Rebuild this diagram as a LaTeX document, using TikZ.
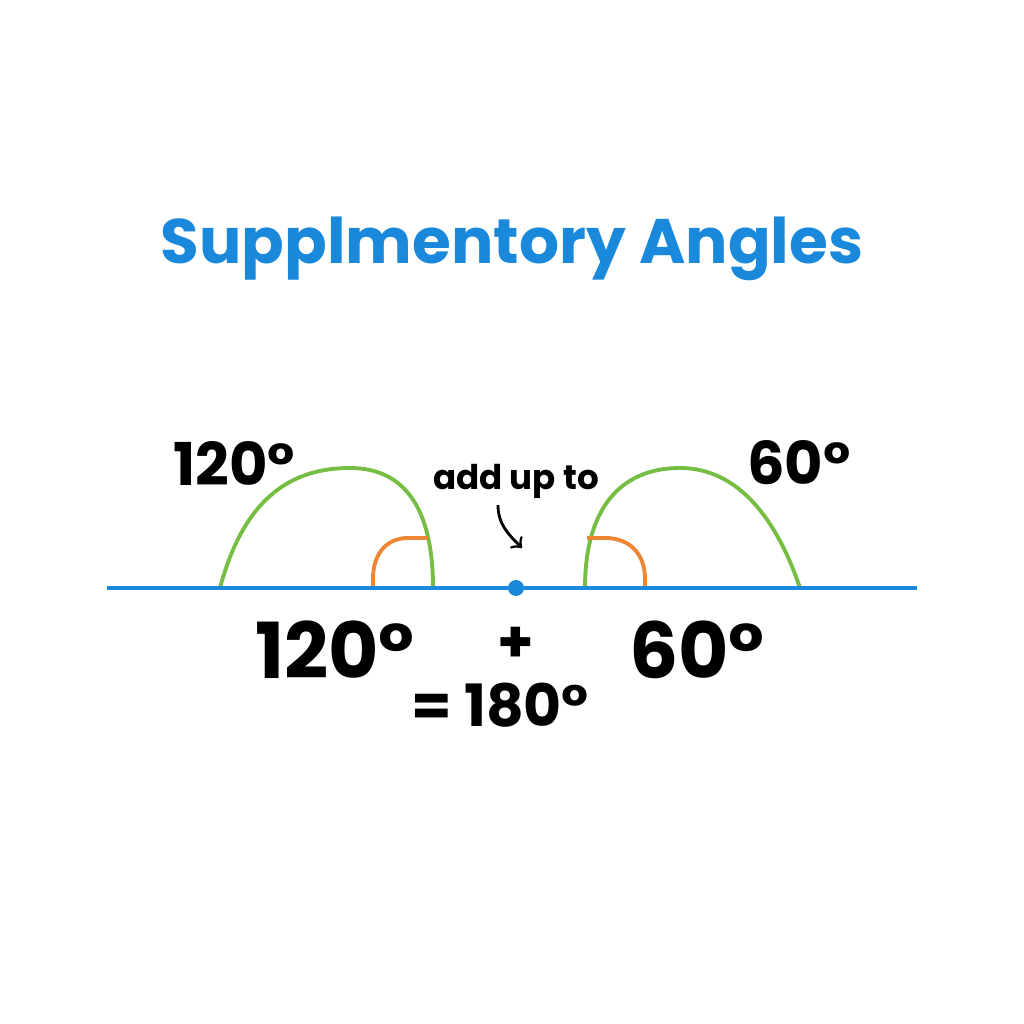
\documentclass[tikz,border=0pt]{standalone}
\usepackage{fontspec}
\setmainfont{Poppins}
\definecolor{lineblue}{RGB}{26,137,220}
\definecolor{arcgreen}{RGB}{118,190,67}
\definecolor{arcorange}{RGB}{238,135,52}
\begin{document}
\begin{tikzpicture}[font=\bfseries,
  label/.style={inner sep=0pt, anchor=center},
  bigarc/.style={arcgreen, line width=1.1pt},
  smallarc/.style={arcorange, line width=1.1pt}]

\useasboundingbox (0,0) rectangle (10.24,10.24);
\def\Y{4.36}

% Titre
  \node[label, lineblue, font=\fontsize{17.9}{20}\bfseries\selectfont] (titre) at (5.12,7.75) {Supplmentory Angles};

% Arcs
  \draw[bigarc] (2.20,\Y) .. controls (2.45,5.30) and (2.95,5.56) .. (3.50,5.56) .. controls (4.05,5.56) and (4.33,5.15) .. (4.33,\Y);
  \draw[smallarc] (3.73,\Y) -- (3.73,4.45) .. controls (3.73,4.72) and (3.88,4.86) .. (4.08,4.86) -- (4.28,4.86);
  \draw[bigarc] (5.85,\Y) .. controls (5.85,5.15) and (6.20,5.56) .. (6.80,5.56) .. controls (7.35,5.56) and (7.75,5.10) .. (8.00,\Y);
  \draw[smallarc] (5.87,4.86) -- (6.05,4.86) .. controls (6.30,4.86) and (6.45,4.70) .. (6.45,4.45) -- (6.45,\Y);

% Droite et point
  \draw[lineblue, line width=1.2pt] (1.07,\Y) -- (9.17,\Y);
  \fill[lineblue] (5.16,\Y) circle (0.08) coordinate (point);

% Labels
  \node[label, font=\fontsize{16.8}{18}\bfseries\selectfont] (gauche) at (2.34,5.61) {120°};
  \node[label, font=\fontsize{16.8}{18}\bfseries\selectfont] (droite) at (7.99,5.61) {60°};
  \node[label, font=\fontsize{9.7}{12}\bfseries\selectfont] (addup) at (5.16,5.43) {add up to};
  \coordinate (debut) at (4.98,5.19);
  \coordinate (fin) at (5.22,4.76);
  \draw[->, line width=0.8pt] (debut) to[out=-90, in=135] (fin);

% Somme
  \node[label, font=\fontsize{22}{26}\bfseries\selectfont] (a) at (3.35,3.74) {120°};
  \node[label, font=\fontsize{16.6}{20}\bfseries\selectfont] (plus) at (5.16,3.79) {+};
  \node[label, font=\fontsize{22}{26}\bfseries\selectfont] (b) at (6.97,3.74) {60°};
  \node[label, font=\fontsize{16.6}{20}\bfseries\selectfont] (total) at (5.00,3.19) {= 180°};
\end{tikzpicture}
\end{document}
